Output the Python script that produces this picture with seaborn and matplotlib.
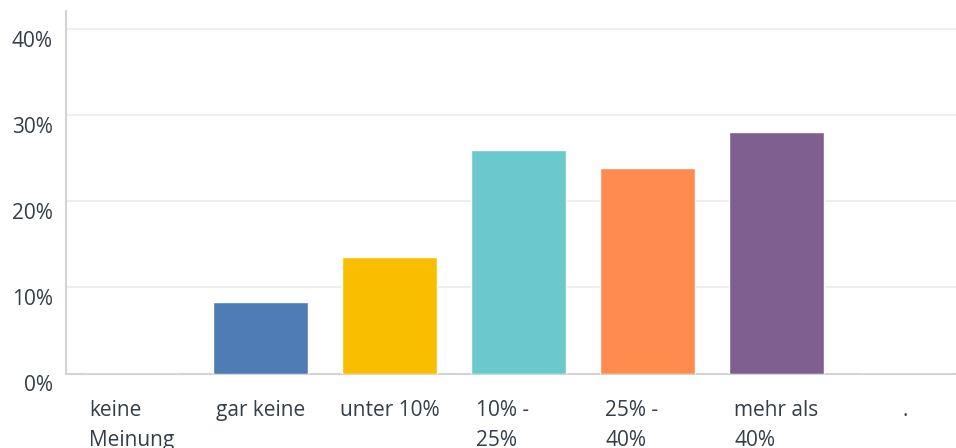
import matplotlib
matplotlib.use("Agg")
import matplotlib.pyplot as plt
import matplotlib.transforms as mtransforms
import seaborn as sns
import pandas as pd

categories = ["keine\nMeinung", "gar keine", "unter 10%", "10% -\n25%", "25% -\n40%", "mehr als\n40%", "."]
values = [0.0, 8.3, 13.55, 26.0, 23.9, 28.1, 0.0]
colors = ["#507cb6", "#507cb6", "#f9be00", "#6bc8cd", "#ff8b4f", "#7f5f90", "#7f5f90"]
yticks = [0, 10, 20, 30, 40]
ytick_labels = ["0%", "10%", "20%", "30%", "40%"]

sns.set_theme(style="white")
plt.rcParams["font.family"] = ["Open Sans", "DejaVu Sans"]
text_color = "#333e48"
fs = 15

df = pd.DataFrame({"cat": categories, "val": values})

fig = plt.figure(figsize=(9.56, 4.48), dpi=100)
ax = fig.add_axes([65.5 / 956, 1 - 373.5 / 448, 1 - 65.5 / 956, (373.5 - 11) / 448])

sns.barplot(data=df, x="cat", y="val", hue="cat", palette=colors, legend=False,
            width=0.737, saturation=1, ax=ax, zorder=3)

ax.set_ylim(0, 42.15)
ax.set_xlim(-0.512, 6.39)
ax.set_yticks(yticks)
ax.set_yticklabels(ytick_labels)
ax.set_xlabel("")
ax.set_ylabel("")
ax.yaxis.grid(True, color="#eeeeee", linewidth=1.5, zorder=0)
ax.xaxis.grid(False)
ax.set_axisbelow(True)
for s in ["top", "right"]:
    ax.spines[s].set_visible(False)
for s in ["left", "bottom"]:
    ax.spines[s].set_color("#d3d3d3")
    ax.spines[s].set_linewidth(1.5)
ax.tick_params(axis="y", length=0, pad=9, labelsize=fs, labelcolor=text_color)
ax.tick_params(axis="x", length=0, labelbottom=False)

shift = mtransforms.ScaledTranslation(0, -1 / 72, fig.dpi_scale_trans)
for lab in ax.get_yticklabels():
    lab.set_va("top")
    lab.set_transform(lab.get_transform() + shift)

base = mtransforms.blended_transform_factory(ax.transData, ax.transAxes)
trans = mtransforms.offset_copy(base, fig=fig, y=-19, units="points")
for i, lab in enumerate(categories):
    if "\n" in lab:
        ax.text(i - 0.33, 0, lab, transform=trans, ha="left", va="top",
                fontsize=fs, color=text_color, linespacing=1.55, multialignment="left")
    else:
        ax.text(i, 0, lab, transform=trans, ha="center", va="top",
                fontsize=fs, color=text_color)

fig.savefig("out.png", dpi=100)
